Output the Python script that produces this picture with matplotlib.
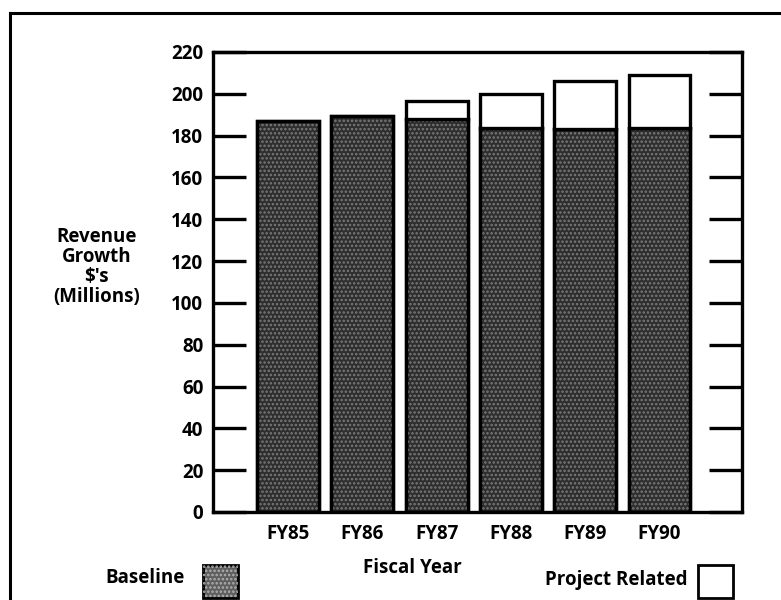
import numpy as np
import matplotlib
matplotlib.use('Agg')
import matplotlib.pyplot as plt
from matplotlib.lines import Line2D
from matplotlib.patches import Rectangle

plt.rcParams['font.family'] = ['Open Sans', 'DejaVu Sans']
plt.rcParams['font.weight'] = 'bold'
plt.rcParams['hatch.linewidth'] = 1.2

years = ['FY85', 'FY86', 'FY87', 'FY88', 'FY89', 'FY90']
baseline = [187, 189.5, 188, 183.5, 183, 183.5]
project = [0, 0, 8.5, 16.5, 23, 25.5]
yticks = [0, 20, 40, 60, 80, 100, 120, 140, 160, 180, 200, 220]

fig = plt.figure(figsize=(7.81, 6.0), dpi=100)
ax = fig.add_axes([0.2727, 0.1467, 0.6773, 0.7667])

x = np.arange(len(years))
w = 0.834
dark = '#2e2e2e'
fs = 13.5

# baseline bars, stippled grey
ax.bar(x, baseline, width=w, color=dark, edgecolor='black', linewidth=2.4, zorder=2)
ax.bar(x, baseline, width=w, fill=False, hatch='....', edgecolor='#7a7a7a', linewidth=0, zorder=3)
ax.bar(x, baseline, width=w, fill=False, edgecolor='black', linewidth=2.4, zorder=4)
# project related on top, white
proj_x = [i for i, p in enumerate(project) if p > 0]
ax.bar(proj_x, [project[i] for i in proj_x], bottom=[baseline[i] for i in proj_x],
       width=w, color='white', edgecolor='black', linewidth=2.4, zorder=4)

ax.set_xlim(-1.01, 6.11)
ax.set_ylim(0, 220)
ax.set_yticks(yticks)
ax.set_yticklabels([str(t) for t in yticks], fontsize=fs, fontweight='bold')
ax.set_xticks(x)
ax.set_xticklabels(years, fontsize=fs, fontweight='bold')
ax.tick_params(axis='y', direction='in', length=24, width=2.4, pad=7, right=True)
ax.tick_params(axis='x', length=0, pad=9)
for s in ax.spines.values():
    s.set_linewidth(2.4)

fig.text(0.124, 0.555, "Revenue\nGrowth\n$'s\n(Millions)", ha='center', va='center',
         fontsize=fs, fontweight='bold', linespacing=1.0)
fig.text(0.528, 0.053, 'Fiscal Year', ha='center', va='center', fontsize=fs, fontweight='bold')
fig.text(0.237, 0.037, 'Baseline', ha='right', va='center', fontsize=fs, fontweight='bold')
fig.text(0.880, 0.034, 'Project Related', ha='right', va='center', fontsize=fs, fontweight='bold')

# legend swatches
fig.add_artist(Rectangle((0.260, 0.004), 0.045, 0.054, transform=fig.transFigure,
                         facecolor='#5e5e5e', edgecolor='black', linewidth=2.0))
fig.add_artist(Rectangle((0.260, 0.004), 0.045, 0.054, transform=fig.transFigure,
                         fill=False, hatch='....', edgecolor='#b0b0b0', linewidth=0))
fig.add_artist(Rectangle((0.894, 0.004), 0.045, 0.054, transform=fig.transFigure,
                         facecolor='white', edgecolor='black', linewidth=2.0))

# page frame
fig.add_artist(Line2D([0.013, 1.0], [0.979, 0.979], color='black', linewidth=2.2))
fig.add_artist(Line2D([0.013, 0.013], [0.0, 0.979], color='black', linewidth=2.2))

fig.savefig('out.png', dpi=100)
